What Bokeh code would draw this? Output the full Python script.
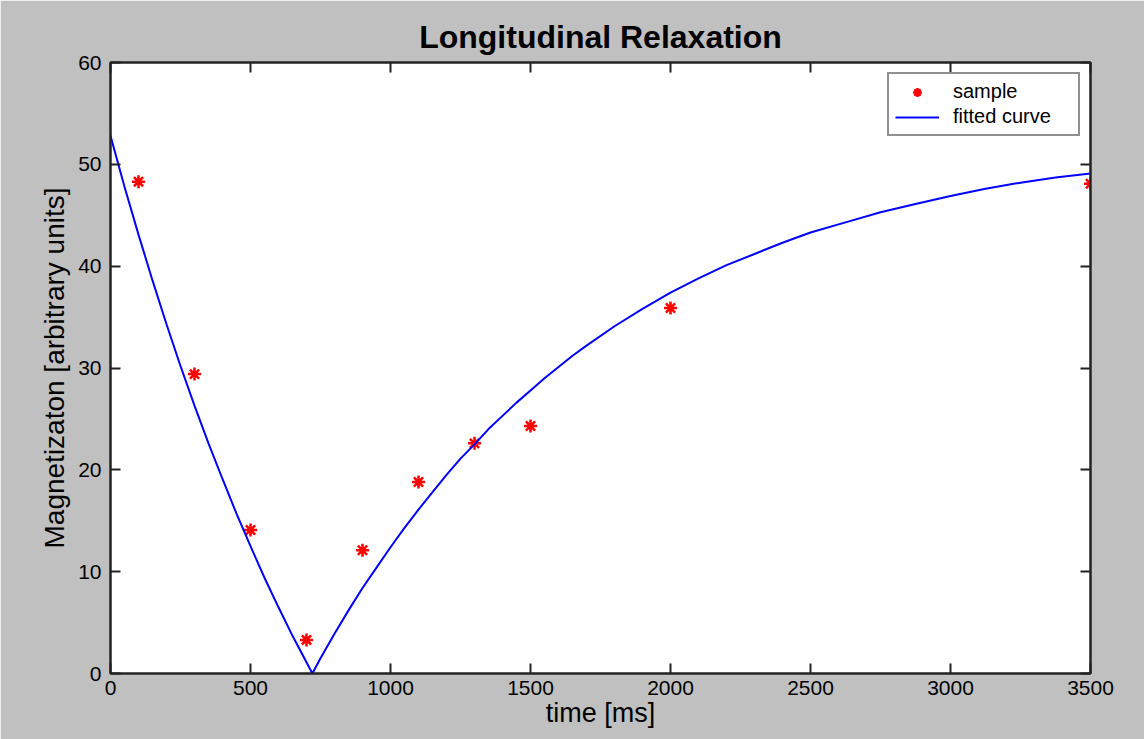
from bokeh.plotting import figure
from bokeh.models import Range1d, LinearAxis, FixedTicker, Title
from bokeh.embed import file_html
from bokeh.resources import INLINE

# sample measurements
sample_t = [100, 300, 500, 700, 900, 1100, 1300, 1500, 2000, 3500]
sample_m = [48.3, 29.4, 14.1, 3.3, 12.1, 18.8, 22.6, 24.3, 35.9, 48.1]

# fitted curve
fit_t = [0, 50, 100, 150, 200, 250, 300, 350, 400, 450, 500, 550, 600, 650, 700, 721,
         750, 800, 850, 900, 950, 1000, 1050, 1100, 1150, 1200, 1250, 1300, 1350, 1400,
         1450, 1500, 1550, 1600, 1650, 1700, 1800, 1900, 2000, 2100, 2200, 2300, 2400,
         2500, 2625, 2750, 2875, 3000, 3125, 3250, 3375, 3500]
fit_m = [52.8, 47.8, 43.1, 38.6, 34.3, 30.2, 26.3, 22.6, 19.1, 15.7, 12.5, 9.4, 6.5, 3.7, 1.1, 0.0,
         1.5, 3.9, 6.2, 8.4, 10.4, 12.4, 14.3, 16.1, 17.8, 19.5, 21.1, 22.5, 24.0, 25.3,
         26.6, 27.8, 29.0, 30.1, 31.2, 32.2, 34.1, 35.8, 37.4, 38.8, 40.1, 41.2, 42.3,
         43.3, 44.3, 45.3, 46.1, 46.9, 47.6, 48.2, 48.7, 49.1]

x_ticks = [0, 500, 1000, 1500, 2000, 2500, 3000, 3500]
y_ticks = [0, 10, 20, 30, 40, 50, 60]

FONT = "Liberation Sans"
GRAY = "#c0c0c0"
DARK = "#222222"

p = figure(width=1144, height=739, output_backend="svg", toolbar_location=None,
           x_range=Range1d(0, 3500), y_range=Range1d(0, 60),
           min_border_left=110, min_border_right=54, min_border_top=62, min_border_bottom=66)

p.background_fill_color = "white"
p.border_fill_color = GRAY
p.outline_line_color = DARK
p.outline_line_width = 2
p.xgrid.visible = False
p.ygrid.visible = False

p.title = Title(text="Longitudinal Relaxation", align="center", text_font=FONT,
                text_font_size="32px", text_font_style="bold", text_color="black",
                standoff=16)

def style_axis(ax, ticks, labels=True):
    ax.ticker = FixedTicker(ticks=ticks)
    ax.major_tick_in = 10
    ax.major_tick_out = 0
    ax.minor_tick_in = 0
    ax.minor_tick_out = 0
    ax.axis_line_color = DARK
    ax.axis_line_width = 2
    ax.major_tick_line_color = DARK
    ax.major_tick_line_width = 2
    ax.major_label_text_font = FONT
    ax.major_label_text_color = "black"
    ax.major_label_text_font_size = "21px"
    if not labels:
        ax.major_label_overrides = {t: "" for t in ticks}
        ax.major_label_standoff = 0

xa = p.xaxis[0]
style_axis(xa, x_ticks)
xa.major_label_standoff = 7
xa.axis_label = "time [ms]"
xa.axis_label_text_font = FONT
xa.axis_label_text_font_size = "27px"
xa.axis_label_text_font_style = "normal"
xa.axis_label_text_color = "black"
xa.axis_label_standoff = 0

ya = p.yaxis[0]
style_axis(ya, y_ticks)
ya.major_label_standoff = 9
ya.axis_label = "Magnetizaton [arbitrary units]"
ya.axis_label_text_font = FONT
ya.axis_label_text_font_size = "28px"
ya.axis_label_text_font_style = "normal"
ya.axis_label_text_color = "black"
ya.axis_label_standoff = 5

top = LinearAxis()
style_axis(top, x_ticks, labels=False)
p.add_layout(top, "above")
right = LinearAxis()
style_axis(right, y_ticks, labels=False)
p.add_layout(right, "right")

p.scatter(sample_t, sample_m, marker="asterisk", size=13, line_color="red",
          line_width=2.5, legend_label="sample")
p.line(fit_t, fit_m, line_color="#0000ff", line_width=2, legend_label="fitted curve")

lg = p.legend[0]
lg.location = "top_right"
lg.margin = 10
lg.border_line_color = DARK
lg.border_line_width = 2
lg.background_fill_color = "white"
lg.background_fill_alpha = 1
lg.label_text_font = FONT
lg.label_text_font_size = "20px"
lg.label_text_color = "black"
lg.glyph_width = 44
lg.glyph_height = 22
lg.label_height = 22
lg.label_width = 119
lg.spacing = 2
lg.padding = 6
lg.label_standoff = 14

open("out.html", "w").write(file_html(p, INLINE))
